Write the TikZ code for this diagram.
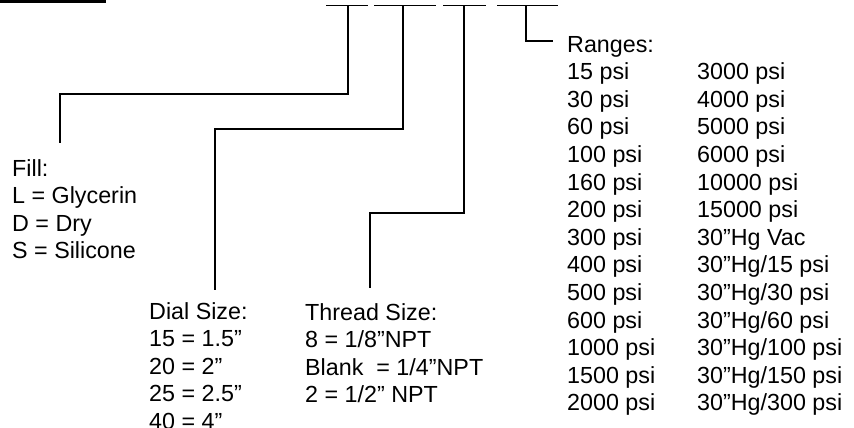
\documentclass[tikz,border=0pt]{standalone}
\usepackage{fontspec}
\setmainfont{Liberation Sans}
\usetikzlibrary{positioning}
\tikzset{leader/.style = {line width=1.4pt},
         blankline/.style = {line width=1.7pt},
         legend/.style = {align=left, anchor=base west, inner sep=0pt,
                          font=\fontsize{23.3}{27.6}\selectfont}}
\newcommand{\rangerow}[2]{\makebox[130pt][l]{#1}#2}

\begin{document}
\begin{tikzpicture}[x=1pt, y=-1pt]
    \useasboundingbox (0,0) rectangle (854,428);

    % bar and the blanks of the model code
    \draw[line width=3pt] (0,1.5) -- (106,1.5);
    \foreach \From/\To in {326/368, 374/436, 443/486, 497/558}
    \draw[blankline] (\From,5.5) -- (\To,5.5);

    % legends, placed by the baseline of their last line
    \node[legend] (fill)   at (12,258.8)  {Fill:\\L = Glycerin\\D = Dry\\S = Silicone};
    \node[legend] (dial)   at (149,429.4) {Dial Size:\\15 = 1.5”\\20 = 2”\\25 = 2.5”\\40 = 4”};
    \node[legend] (thread) at (305,402.8) {Thread Size:\\8 = 1/8”NPT\\Blank\ \ = 1/4”NPT\\2 = 1/2” NPT};
    \node[legend] (ranges) at (567,410.8) {Ranges:\\
        \rangerow{15 psi}{3000 psi}\\
        \rangerow{30 psi}{4000 psi}\\
        \rangerow{60 psi}{5000 psi}\\
        \rangerow{100 psi}{6000 psi}\\
        \rangerow{160 psi}{10000 psi}\\
        \rangerow{200 psi}{15000 psi}\\
        \rangerow{300 psi}{30”Hg Vac}\\
        \rangerow{400 psi}{30”Hg/15 psi}\\
        \rangerow{500 psi}{30”Hg/30 psi}\\
        \rangerow{600 psi}{30”Hg/60 psi}\\
        \rangerow{1000 psi}{30”Hg/100 psi}\\
        \rangerow{1500 psi}{30”Hg/150 psi}\\
        \rangerow{2000 psi}{30”Hg/300 psi}};

    % leaders from the blanks down to the legends
    \coordinate (u1) at (348,5.5);
    \coordinate (u2) at (403,5.5);
    \coordinate (u3) at (464,5.5);
    \coordinate (u4) at (526,5.5);
    \coordinate (e1) at (60,143);
    \coordinate (e2) at (215,290);
    \coordinate (e3) at (370,288);
    \coordinate (e4) at (553,41);

    \foreach \Blank/\Drop/\End in {u1/88.5/e1, u2/123.5/e2, u3/207.5/e3}
    \draw[leader] (\Blank) -- ++(0,\Drop) -| (\End);
    \draw[leader] (u4) |- (e4);
\end{tikzpicture}
\end{document}
